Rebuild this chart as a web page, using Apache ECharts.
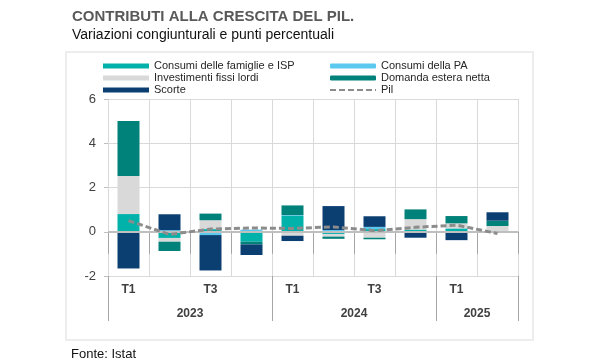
<!DOCTYPE html>
<html><head><meta charset="utf-8">
<script src="https://cdn.jsdelivr.net/npm/echarts@6/dist/echarts.min.js"></script>
<style>html,body{margin:0;padding:0;background:#fff}#c{width:600px;height:360px}</style>
</head><body><div id="c"></div>
<script>
// ---- data ----
const quarters = ['2023 T1','2023 T2','2023 T3','2023 T4','2024 T1','2024 T2','2024 T3','2024 T4','2025 T1','2025 T2'];
const quarterLabels = ['T1','','T3','','T1','','T3','','T1',''];
const years = ['2023','2024','2025'];
const quartersPerYear = [4,4,2];
const yTicks = [-2,0,2,4,6];

const consumiFamiglie = [0.80,-0.28, 0.12,-0.45, 0.72,-0.10, 0.12, 0.10, 0.15, 0.00];
const consumiPA       = [0.00, 0.07,-0.15, 0.10, 0.03, 0.08, 0.10, 0.00, 0.00, 0.03];
const investimenti    = [1.72,-0.17, 0.40, 0.00,-0.18,-0.12,-0.27, 0.47, 0.23, 0.23];
const domandaEstera   = [2.49,-0.42, 0.30,-0.12, 0.44,-0.10,-0.07, 0.44, 0.33, 0.24];
const scorte          = [-1.66,0.72,-1.60,-0.48,-0.24, 1.08, 0.48,-0.27,-0.38, 0.38];
const pil             = [0.50,-0.12, 0.12, 0.17, 0.15, 0.22, 0.05, 0.20, 0.30,-0.08];

// ---- derived axis helpers ----
const yearBounds = [0];
quartersPerYear.forEach(n => yearBounds.push(yearBounds[yearBounds.length-1] + n));
const yearCenters = quartersPerYear.map((n,i) => yearBounds[i] + n/2);

const chart = echarts.init(document.getElementById('c'), null, {renderer:'canvas'});
const FONT = 'Liberation Sans, Arial, sans-serif';
const barSeries = (name, data, color) => ({
  name, type:'bar', stack:'tot', data, barWidth:22, z:3,
  itemStyle:{color}
});

chart.setOption({
  animation:false,
  textStyle:{fontFamily:FONT},
  graphic:[{type:'rect', shape:{x:66,y:52,width:467,height:288}, style:{fill:'none',stroke:'#ededed',lineWidth:2}, z:-10}],
  title:[
    {text:'CONTRIBUTI ALLA CRESCITA DEL PIL.', left:67, top:4, textStyle:{fontFamily:FONT,fontSize:15,fontWeight:'bold',color:'#595959'}},
    {text:'Variazioni congiunturali e punti percentuali', left:67, top:23, textStyle:{fontFamily:FONT,fontSize:14,fontWeight:'normal',color:'#111111'}},
    {text:'Fonte: Istat', left:66, top:343, textStyle:{fontFamily:FONT,fontSize:13,fontWeight:'normal',color:'#111111'}}
  ],
  legend:[
    {data:['Consumi delle famiglie e ISP','Investimenti fissi lordi','Scorte'], orient:'vertical', left:103, top:60, padding:0,
     itemWidth:46, itemHeight:5, itemGap:0, icon:'rect',
     textStyle:{fontFamily:FONT,fontSize:11,color:'#262626',lineHeight:12}},
    {data:['Consumi della PA','Domanda estera netta',{name:'Pil', itemStyle:{opacity:0}}], orient:'vertical', left:329, top:60, padding:0,
     itemWidth:46, itemHeight:5, itemGap:0,
     textStyle:{fontFamily:FONT,fontSize:11,color:'#262626',lineHeight:12}}
  ],
  grid:{left:108, right:82, top:99, bottom:84},
  xAxis:[
    {type:'category', data:quarters, position:'bottom',
     axisLine:{show:false},
     axisTick:{show:true, length:22, interval:0, lineStyle:{color:'#a6a6a6'}},
     splitLine:{show:true, interval:0, lineStyle:{color:'#d9d9d9'}},
     axisLabel:{interval:0, margin:8, fontFamily:FONT, fontSize:12, fontWeight:'bold', color:'#404040',
       formatter:(v,i)=>quarterLabels[i]}},
    {type:'value', min:0, max:yearBounds[yearBounds.length-1], position:'bottom',
     axisLine:{show:false}, splitLine:{show:false},
     axisTick:{show:true, length:45, customValues:yearBounds, lineStyle:{color:'#a6a6a6'}},
     axisLabel:{customValues:yearCenters, margin:32, fontFamily:FONT, fontSize:12, fontWeight:'bold', color:'#404040',
       formatter:(v)=>years[yearCenters.indexOf(v)]}}
  ],
  yAxis:{type:'value', min:yTicks[0], max:yTicks[yTicks.length-1], interval:2,
    axisLine:{show:true, lineStyle:{color:'#d9d9d9'}},
    axisTick:{show:true, length:4, lineStyle:{color:'#bfbfbf'}},
    splitLine:{lineStyle:{color:'#d9d9d9'}},
    axisLabel:{fontFamily:FONT, fontSize:13, color:'#404040', margin:12}},
  series:[
    {name:'zero', type:'line', data:[], z:1, silent:true,
     markLine:{silent:true, symbol:'none', label:{show:false}, lineStyle:{color:'#bfbfbf', width:2, type:'solid'}, data:[{yAxis:0}]}},
    barSeries('Consumi delle famiglie e ISP', consumiFamiglie, '#00B2A9'),
    barSeries('Consumi della PA', consumiPA, '#5BC8F0'),
    barSeries('Investimenti fissi lordi', investimenti, '#D9D9D9'),
    barSeries('Domanda estera netta', domandaEstera, '#00827A'),
    barSeries('Scorte', scorte, '#0B3F72'),
    {name:'Pil', type:'line', data:pil, z:5, symbol:'none', showSymbol:false,
     itemStyle:{color:'#8c8c8c'},
     lineStyle:{color:'#8c8c8c', width:3, type:[6,3]}}
  ]
});
</script></body></html>
